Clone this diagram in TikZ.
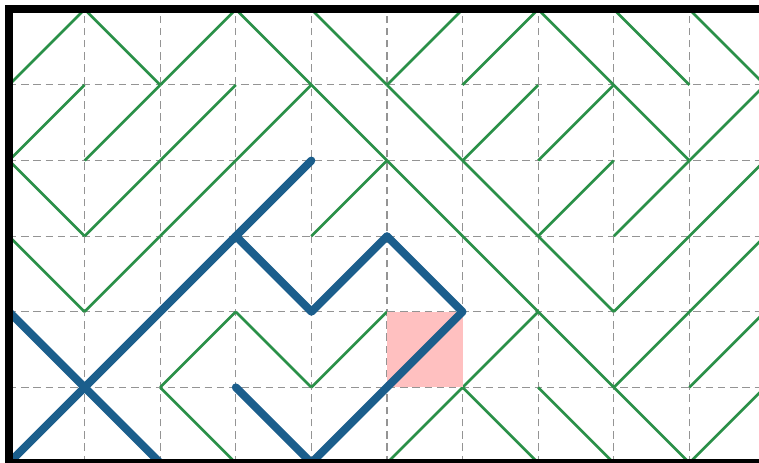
\documentclass[tikz,border=0pt]{standalone}
\usetikzlibrary{calc}
\definecolor{mazegreen}{HTML}{2A9048}
\definecolor{pathblue}{HTML}{1B5E8C}
\definecolor{cellpink}{HTML}{FFC0C0}
\tikzset{
  gridline/.style={black!42, line width=0.4pt, dash pattern=on 2.8pt off 1.8pt},
  greenline/.style={mazegreen, line width=1pt},
  bluepath/.style={pathblue, line width=3pt, line cap=round, line join=round},
  frameline/.style={black, line width=3pt},
}
\newcommand\mazerow[2]{%
  \foreach \s [count=\c from 0] in {#2} {%
    \ifnum\s=1 \draw[greenline] (\c,#1) -- ++(1,1);
    \else\ifnum\s=0 \draw[greenline] (\c,#1+1) -- ++(1,-1);\fi\fi
  }%
}
\begin{document}
\begin{tikzpicture}[x=1cm,y=1cm]
  \useasboundingbox (-0.119,0) rectangle (9.921,6.124);
  \clip (-0.119,0) rectangle (9.921,6.124);
  \fill[white] (-0.119,0) rectangle (9.921,6.124);
  % grid
  \foreach \i in {1,...,9} \draw[gridline] (\i,0) -- (\i,6);
  \foreach \j in {1,...,5} \draw[gridline] (0,\j) -- (10,\j);
  % green maze diagonals (1 = /, 0 = \, 2 = none)
  \mazerow{5}{1,0,1,0,0,1,1,0,0,0}
  \mazerow{4}{1,1,1,1,0,0,1,1,0,1}
  \mazerow{3}{0,1,1,1,1,0,0,1,1,1}
  \mazerow{2}{0,1,1,0,1,0,0,0,1,1}
  \mazerow{1}{0,1,1,0,1,2,1,0,1,1}
  \mazerow{0}{1,0,0,0,1,1,0,0,0,1}
  % highlighted cell
  \fill[cellpink] (5,1) rectangle (6,2);
  % blue path
  \coordinate (a) at (4,4);
  \coordinate (b) at (3,3);
  \coordinate (c) at (0,0);
  \coordinate (d) at (4,2);
  \coordinate (e) at (5,3);
  \coordinate (f) at (6,2);
  \coordinate (g) at (4,0);
  \coordinate (h) at (3,1);
  \coordinate (k) at (0,2);
  \coordinate (m) at (2,0);
  \draw[bluepath] (a) -- (c);
  \draw[bluepath] (b) -- (d) -- (e) -- (f) -- (g) -- (h);
  \draw[bluepath] (k) -- (m);
  % frame
  \draw[frameline] (0,0) rectangle (10,6);
\end{tikzpicture}
\end{document}
